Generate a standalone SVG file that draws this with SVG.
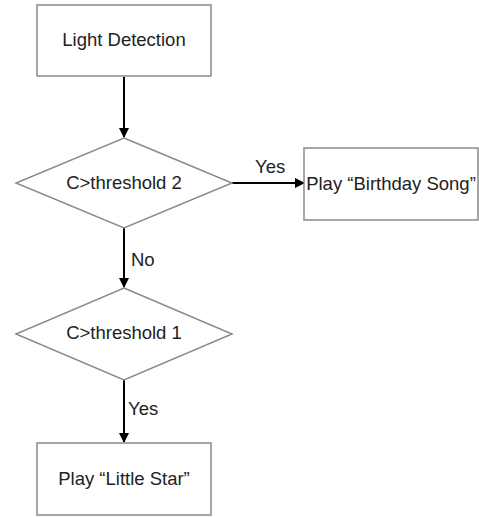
<svg xmlns="http://www.w3.org/2000/svg" width="479" height="518" viewBox="0 0 479 518">
<style>
.n{fill:#fff;stroke:#8a8a8a;stroke-width:1.5}
.t{font-family:"Liberation Sans",Arial,sans-serif;font-size:18.5px;fill:#222;text-anchor:middle}
.l{font-family:"Liberation Sans",Arial,sans-serif;font-size:18.5px;fill:#222}
.c{stroke:#000;stroke-width:2;fill:none;marker-end:url(#a)}
</style>
<defs><marker id="a" markerWidth="10" markerHeight="10" refX="9" refY="5" orient="auto" markerUnits="userSpaceOnUse"><path d="M0,0 L10,5 L0,10 Z" fill="#000"/></marker></defs>
<rect width="479" height="518" fill="#fff"/>
<g id="connectors">
<line class="c" x1="124" y1="77" x2="124" y2="137"/>
<line class="c" x1="232" y1="183" x2="304" y2="183"/>
<line class="c" x1="124" y1="228" x2="124" y2="287"/>
<line class="c" x1="124" y1="380" x2="124" y2="442"/>
<text class="l" x="255" y="173">Yes</text>
<text class="l" x="131" y="266">No</text>
<text class="l" x="128" y="415">Yes</text>
</g>
<g id="light"><rect class="n" x="37" y="5" width="174" height="71"/><text class="t" x="124" y="46">Light Detection</text></g>
<g id="d2"><polygon class="n" points="124,138 232,183 124,228 16,183"/><text class="t" x="124" y="189">C&gt;threshold 2</text></g>
<g id="birthday"><rect class="n" x="304" y="148" width="174" height="72"/><text class="t" x="391" y="190">Play “Birthday Song”</text></g>
<g id="d1"><polygon class="n" points="124,288 232,334 124,380 16,334"/><text class="t" x="124" y="339">C&gt;threshold 1</text></g>
<g id="star"><rect class="n" x="37" y="443" width="174" height="72"/><text class="t" x="124" y="485">Play “Little Star”</text></g>
</svg>
